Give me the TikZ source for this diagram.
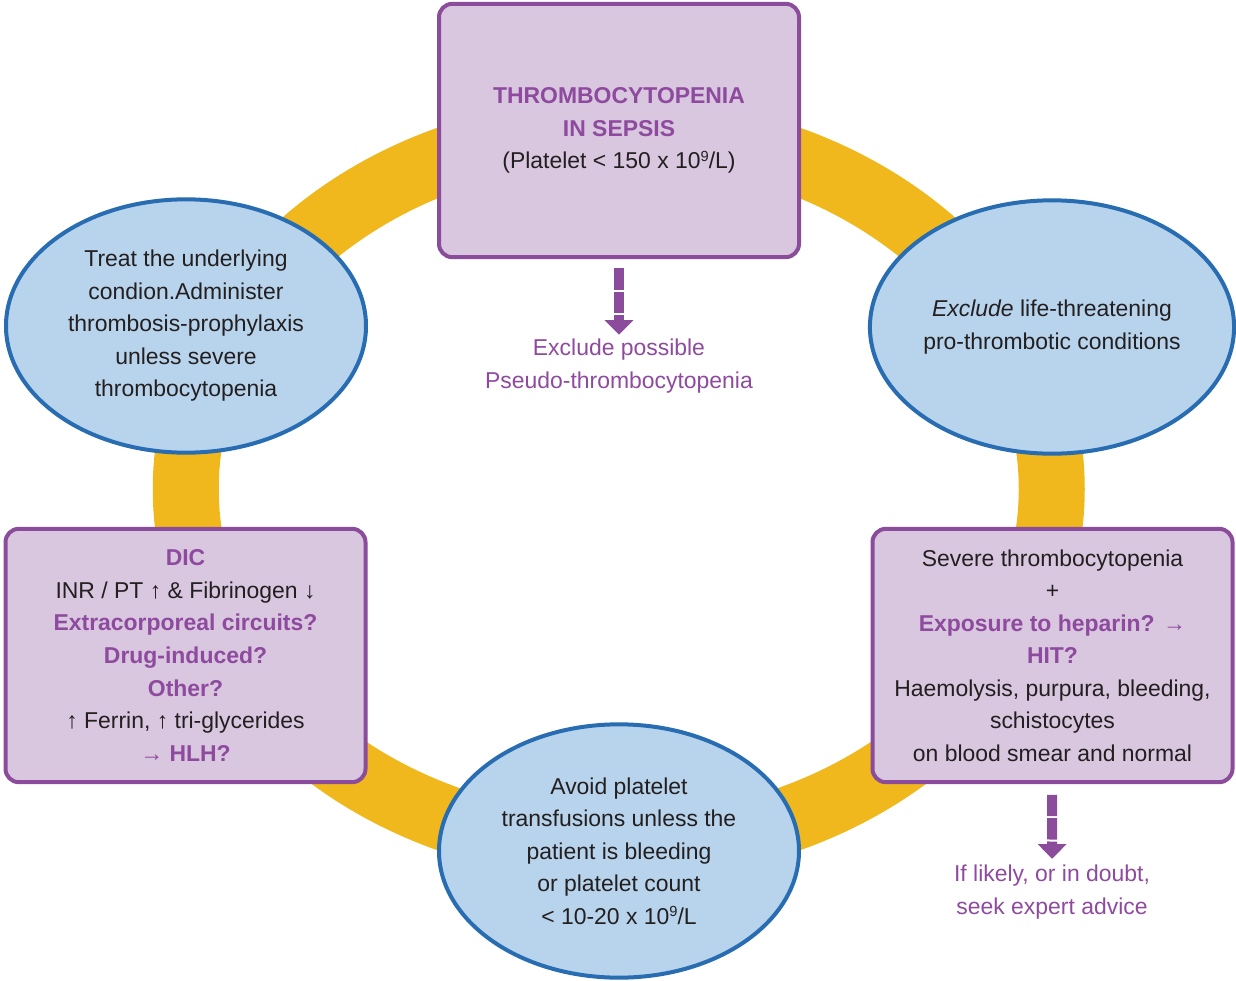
\documentclass[tikz,border=0pt]{standalone}
\usepackage{fontspec}
\setmainfont{Liberation Sans}
\usetikzlibrary{shapes.geometric,arrows.meta}
\definecolor{ringyellow}{RGB}{240,184,28}
\definecolor{boxfill}{RGB}{217,198,223}
\definecolor{boxline}{RGB}{139,77,155}
\definecolor{bubblefill}{RGB}{184,212,236}
\definecolor{bubbleline}{RGB}{40,108,178}
\definecolor{purpletext}{RGB}{142,74,158}
\definecolor{darktext}{RGB}{35,31,32}
\newcommand{\hilite}[1]{\textcolor{purpletext}{\textbf{#1}}}
\newcommand{\supnine}{\raisebox{0.62ex}{\fontsize{11}{11}\selectfont 9}}
\tikzset{
  cyclefont/.style={font=\fontsize{17.2}{24.4}\selectfont},
  box/.style={draw=boxline,fill=boxfill,line width=3pt,rounded corners=10pt,minimum width=270pt,minimum height=190pt,inner sep=0pt,align=center,text=darktext,cyclefont},
  bubble/.style={ellipse,draw=bubbleline,fill=bubblefill,line width=3pt,minimum width=270pt,minimum height=190pt,inner sep=0pt,align=center,text=darktext,cyclefont},
  note/.style={inner sep=0pt,align=center,text=purpletext,cyclefont},
  stemarrow/.style={draw=boxline,line width=7.5pt,dash pattern=on 16pt off 1.5pt,-{Triangle[width=21pt,length=11pt]}},
  ring/.style={draw=ringyellow,line width=49.5pt}
}
\begin{document}
\begin{tikzpicture}[x=0.75pt,y=0.75pt,yscale=-1,xscale=1]
        \useasboundingbox (0,0) rectangle (1236,981);
        % yellow cycle behind everything
        \draw[ring] (618.75,489) ellipse [x radius=324.75pt, y radius=269.25pt];

        \node[box] (sepsis) at (619,130.5) {\hilite{THROMBOCYTOPENIA}\\\hilite{IN SEPSIS}\\(Platelet < 150 x 10\supnine/L)};
        \node[bubble] (treat) at (186,326) {Treat the underlying\\condion.Administer\\thrombosis-prophylaxis\\unless severe\\thrombocytopenia};
        \node[bubble] (exclude) at (1052,327) {\textit{Exclude} life-threatening\\pro-thrombotic conditions};
        \node[box] (dic) at (185.5,655.5) {\hilite{DIC}\\INR / PT ↑ \& Fibrinogen ↓\\\hilite{Extracorporeal circuits?}\\\hilite{Drug-induced?}\\\hilite{Other?}\\↑ Ferrin, ↑ tri-glycerides\\\textcolor{purpletext}{→} \hilite{HLH?}};
        \node[box] (hit) at (1052.5,655.5) {Severe thrombocytopenia\\+\\\hilite{Exposure to heparin?} \textcolor{purpletext}{→}\\\hilite{HIT?}\\Haemolysis, purpura, bleeding,\\schistocytes\\on blood smear and normal};
        \node[bubble] (avoid) at (619,851) {Avoid platelet\\transfusions unless the\\patient is bleeding\\or platelet count\\< 10-20 x 10\supnine/L};

        \node[note] (pseudo) at (619,366) {Exclude possible\\Pseudo-thrombocytopenia};
        \node[note] (advice) at (1052,892) {If likely, or in doubt,\\seek expert advice};

        \draw[stemarrow,shorten <=6.75pt,shorten >=3pt] (sepsis) -- (pseudo);
        \draw[stemarrow,shorten <=8pt,shorten >=4.5pt] (hit) -- (advice);
\end{tikzpicture}
\end{document}
